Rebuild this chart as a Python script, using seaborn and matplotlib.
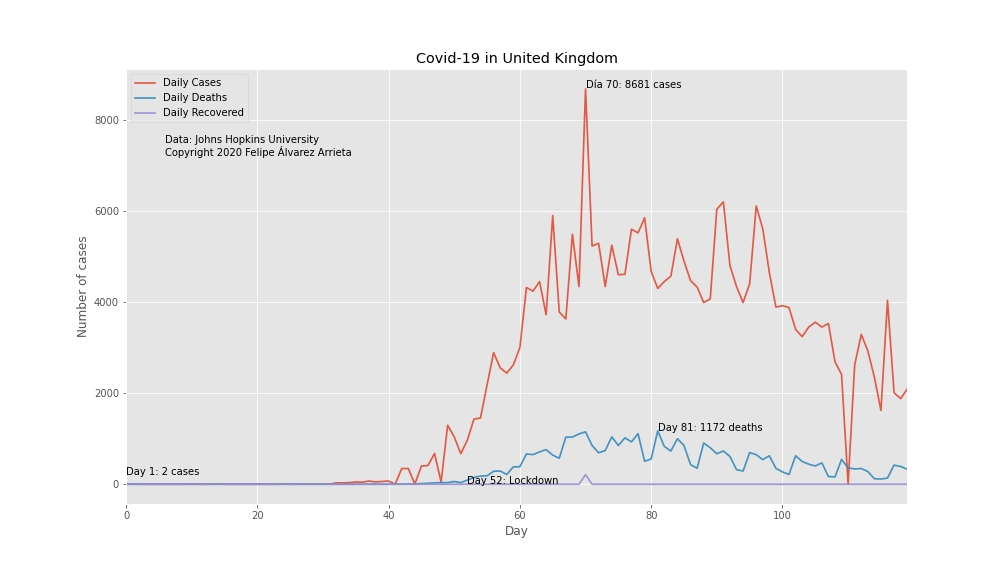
import pandas as pd
import matplotlib
matplotlib.use("Agg")
import matplotlib.pyplot as plt
import seaborn as sns

plt.style.use("ggplot")

# Values, one per day from day 0 to day 119
daily_cases = [
    0, 2, 0, 0, 0, 0, 0, 0, 0, 0,
    1, 0, 0, 0, 6, 0, 0, 0, 0, 0,
    0, 0, 0, 0, 4, 0, 0, 3, 0, 2,
    3, 0, 30, 30, 35, 50, 45, 70, 50, 60,
    70, 0, 345, 345, 5, 400, 410, 675, 50, 1295,
    1040, 670, 970, 1430, 1455, 2180, 2890, 2555, 2440, 2620,
    3000, 4320, 4240, 4450, 3720, 5900, 3780, 3630, 5490, 4340,
    8681, 5230, 5290, 4340, 5250, 4600, 4610, 5600, 5520, 5850,
    4670, 4300, 4450, 4570, 5390, 4900, 4470, 4330, 3990, 4070,
    6040, 6200, 4800, 4340, 3990, 4400, 6110, 5610, 4650, 3890,
    3920, 3880, 3400, 3240, 3450, 3560, 3450, 3530, 2690, 2410,
    0, 2620, 3290, 2930, 2350, 1620, 4040, 2010, 1880, 2090,
]
daily_deaths = [
    0, 0, 0, 0, 0, 0, 0, 0, 0, 0,
    0, 0, 0, 0, 0, 0, 0, 0, 0, 0,
    0, 0, 0, 0, 0, 0, 0, 0, 0, 0,
    0, 0, 0, 0, 0, 0, 0, 0, 0, 0,
    0, 0, 2, 5, 5, 15, 20, 30, 35, 35,
    60, 35, 90, 150, 180, 185, 285, 290, 215, 380,
    385, 665, 650, 710, 760, 640, 570, 1035, 1035, 1105,
    1150, 850, 690, 740, 1040, 850, 1020, 930, 1110, 505,
    555, 1172, 830, 730, 1000, 850, 430, 350, 905, 800,
    670, 730, 610, 320, 290, 695, 650, 540, 625, 350,
    270, 215, 625, 500, 440, 400, 470, 170, 160, 545,
    360, 335, 345, 280, 120, 115, 135, 420, 390, 330,
]
daily_recovered = [0] * 70 + [210] + [0] * 49
days = list(range(len(daily_cases)))

df = pd.DataFrame({
    "Day": days,
    "Daily Cases": daily_cases,
    "Daily Deaths": daily_deaths,
    "Daily Recovered": daily_recovered,
})
long_df = df.melt(id_vars="Day", var_name="Series", value_name="Cases")

fig, ax = plt.subplots(figsize=(14, 8), dpi=72)
fig.subplots_adjust(left=0.125, right=0.9, top=0.88, bottom=0.125)

sns.lineplot(data=long_df, x="Day", y="Cases", hue="Series", ax=ax,
             palette=["#E24A33", "#348ABD", "#988ED5"],
             linewidth=1.7, alpha=0.9)
ax.legend(loc="upper left")

ax.set_title("Covid-19 in United Kingdom")
ax.set_xlabel("Day")
ax.set_ylabel("Number of cases")
ax.set_xlim(0, 119)

ax.text(0, 200, "Day 1: 2 cases")
ax.text(70, 8710, "Día 70: 8681 cases")
ax.text(81, 1172, "Day 81: 1172 deaths")
ax.text(52, 0, "Day 52: Lockdown")
ax.text(6, 7200, "Data: Johns Hopkins University\nCopyright 2020 Felipe Álvarez Arrieta",
        linespacing=1.1)

fig.savefig("out.png")
